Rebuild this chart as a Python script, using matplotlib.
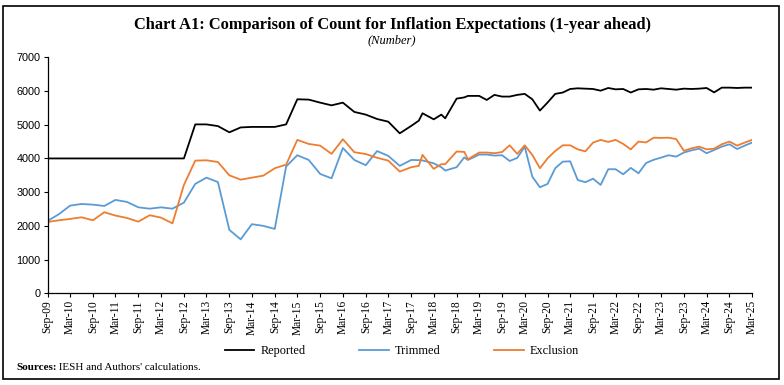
import matplotlib
matplotlib.use("Agg")
import matplotlib.pyplot as plt
import matplotlib.dates as mdates
from matplotlib.patches import Rectangle
import pandas as pd

# survey rounds: quarterly until Sep-17, then (mostly) bi-monthly
rounds = [
    "Sep-09", "Dec-09", "Mar-10", "Jun-10", "Sep-10", "Dec-10", "Mar-11", "Jun-11",
    "Sep-11", "Dec-11", "Mar-12", "Jun-12", "Sep-12", "Dec-12", "Mar-13", "Jun-13",
    "Sep-13", "Dec-13", "Mar-14", "Jun-14", "Sep-14", "Dec-14", "Mar-15", "Jun-15",
    "Sep-15", "Dec-15", "Mar-16", "Jun-16", "Sep-16", "Dec-16", "Mar-17", "Jun-17",
    "Sep-17", "Nov-17", "Dec-17", "Mar-18", "May-18", "Jun-18", "Sep-18", "Nov-18",
    "Dec-18", "Mar-19", "May-19", "Jul-19", "Sep-19", "Nov-19", "Jan-20", "Mar-20",
    "May-20", "Jul-20", "Sep-20", "Nov-20", "Jan-21", "Mar-21", "May-21", "Jul-21",
    "Sep-21", "Nov-21", "Jan-22", "Mar-22", "May-22", "Jul-22", "Sep-22", "Nov-22",
    "Jan-23", "Mar-23", "May-23", "Jul-23", "Sep-23", "Nov-23", "Jan-24", "Mar-24",
    "May-24", "Jul-24", "Sep-24", "Nov-24", "Jan-25", "Mar-25",
]

reported = [
    4000, 4000, 4000, 4000, 4000, 4000, 4000, 4000,
    4000, 4000, 4000, 4000, 4000, 5010, 5010, 4960,
    4775, 4920, 4935, 4935, 4935, 5010, 5755, 5745,
    5655, 5575, 5655, 5380, 5300, 5170, 5090, 4745,
    4965, 5120, 5340, 5160, 5300, 5190, 5775, 5810,
    5855, 5855, 5735, 5885, 5835, 5835, 5885, 5915,
    5755, 5420, 5660, 5915, 5955, 6060, 6080, 6070,
    6060, 6010, 6090, 6050, 6060, 5955, 6050, 6060,
    6040, 6080, 6060, 6040, 6070, 6060, 6070, 6090,
    5960, 6100, 6100, 6090, 6100, 6100,
]

trimmed = [
    2145, 2345, 2600, 2650, 2630, 2590, 2770, 2710,
    2550, 2510, 2550, 2510, 2690, 3245, 3430, 3300,
    1880, 1600, 2050, 2000, 1910, 3760, 4095, 3955,
    3540, 3410, 4310, 3955, 3800, 4220, 4075, 3780,
    3955, 3950, 3940, 3855, 3740, 3640, 3740, 4030,
    3955, 4115, 4115, 4085, 4095, 3925, 4015, 4350,
    3460, 3145, 3245, 3710, 3905, 3915, 3360, 3295,
    3400, 3215, 3680, 3680, 3530, 3720, 3560, 3865,
    3960, 4025, 4095, 4055, 4175, 4240, 4290, 4155,
    4250, 4350, 4420, 4280, 4380, 4470,
]

exclusion = [
    2115, 2165, 2205, 2255, 2165, 2405, 2305, 2235,
    2125, 2315, 2245, 2075, 3215, 3935, 3945, 3895,
    3500, 3370, 3430, 3490, 3710, 3815, 4550, 4430,
    4380, 4135, 4570, 4185, 4130, 4020, 3935, 3610,
    3740, 3780, 4105, 3690, 3830, 3830, 4205, 4195,
    3975, 4175, 4175, 4155, 4190, 4390, 4135, 4390,
    4105, 3710, 4005, 4220, 4390, 4390, 4270, 4210,
    4470, 4550, 4490, 4550, 4430, 4270, 4500, 4475,
    4615, 4610, 4615, 4575, 4225, 4300, 4350, 4270,
    4290, 4420, 4500, 4380, 4470, 4550,
]

SERIES = [
    ("Reported", reported, "black"),
    ("Trimmed", trimmed, "#5B9BD5"),
    ("Exclusion", exclusion, "#ED7D31"),
]

dates = pd.to_datetime(rounds, format="%b-%y")

plt.rcParams.update({"font.family": "Liberation Serif"})

fig = plt.figure(figsize=(7.84, 3.85), dpi=100)
ax = fig.add_axes([47.5 / 784, 1 - 293.3 / 385, (752 - 47.5) / 784, (293.3 - 57.3) / 385])

handles = []
for name, vals, color in SERIES:
    (ln,) = ax.plot(dates, vals, color=color, lw=1.3, label=name)
    handles.append(ln)

ax.set_xlim(pd.Timestamp("2009-09-01"), pd.Timestamp("2025-03-01"))
ax.set_ylim(0, 7000)
ax.set_yticks(range(0, 7001, 1000))
ax.xaxis.set_major_locator(mdates.MonthLocator(bymonth=[3, 9]))
ax.xaxis.set_major_formatter(mdates.DateFormatter("%b-%y"))
ax.tick_params(axis="x", rotation=90, labelsize=8.3, length=3, pad=2)
ax.tick_params(axis="y", labelsize=7.8, length=3, pad=2)
for lab in ax.get_yticklabels():
    lab.set_fontfamily("Liberation Sans")
for s in ("top", "right"):
    ax.spines[s].set_visible(False)
for s in ("left", "bottom"):
    ax.spines[s].set_linewidth(0.9)

fig.text(0.5, 1 - 25 / 385, "Chart A1: Comparison of Count for Inflation Expectations (1-year ahead)",
         ha="center", va="center", fontsize=11.8, fontweight="bold")
fig.text(0.5, 1 - 40.5 / 385, "(Number)", ha="center", va="center", fontsize=9, style="italic")

fig.legend(handles=handles, loc="center", bbox_to_anchor=(402 / 784, 1 - 351 / 385), ncol=3,
           frameon=False, fontsize=8.8, handlelength=2.4, handletextpad=0.5, columnspacing=4.4)

src = fig.text(16 / 784, 1 - 368 / 385, "Sources:", ha="left", va="center", fontsize=8,
               fontweight="bold")
ax.annotate(" IESH and Authors' calculations.", xy=(1, 0.5), xycoords=src, ha="left",
            va="center", fontsize=8, annotation_clip=False)

fig.patches.append(Rectangle((3 / 784, 1 - 379 / 385), 776 / 784, 373 / 385, transform=fig.transFigure,
                             fill=False, edgecolor="black", lw=1.2))

fig.savefig("out.png", dpi=100)
